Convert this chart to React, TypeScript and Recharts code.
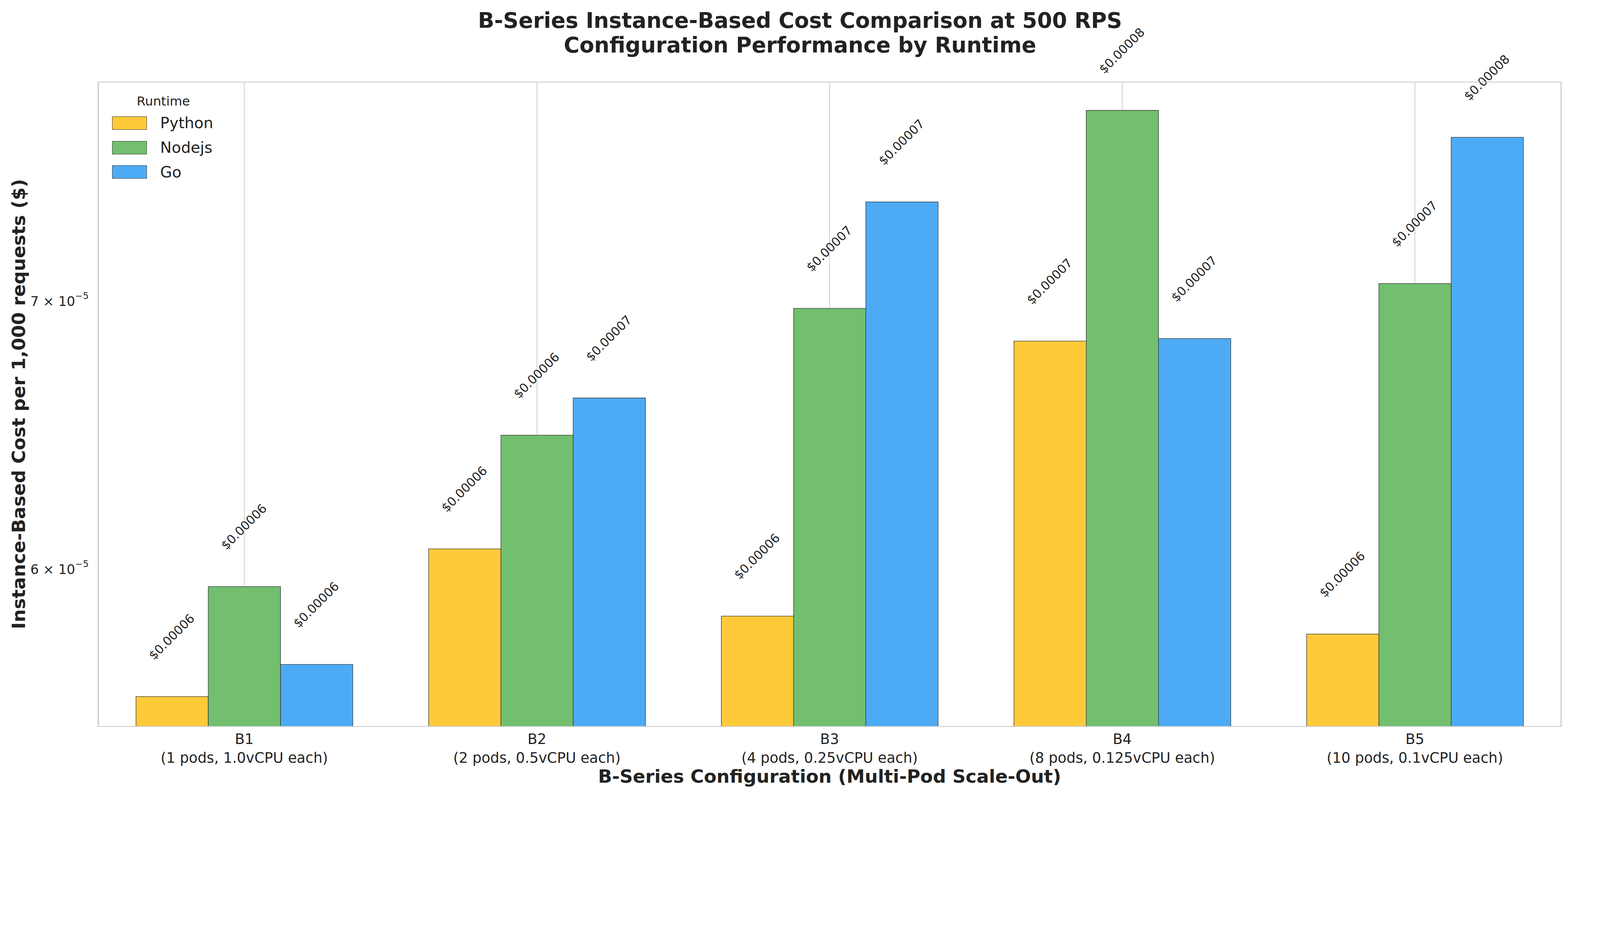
import React from "react";
import { Bar, BarChart, CartesianGrid, LabelList, XAxis, YAxis } from "recharts";

const W = window.innerWidth || 4765;
const H = Math.round(W * 2380 / 4765);
const S = W / 1568;
const categories = ["B1", "B2", "B3", "B4", "B5"];
const subLabels = [
  "(1 pods, 1.0vCPU each)",
  "(2 pods, 0.5vCPU each)",
  "(4 pods, 0.25vCPU each)",
  "(8 pods, 0.125vCPU each)",
  "(10 pods, 0.1vCPU each)",
];
const python = [5.576e-5, 6.07e-5, 5.84e-5, 6.84e-5, 5.78e-5];
const nodejs = [5.94e-5, 6.48e-5, 6.97e-5, 7.81e-5, 7.07e-5];
const go = [5.68e-5, 6.62e-5, 7.41e-5, 6.85e-5, 7.69e-5];
const yTicks = [6e-5, 7e-5];
const yMin = 5.48e-5;
const yMax = 7.94e-5;

const series = [
  { key: "python", label: "Python", color: "#FFCA3A" },
  { key: "nodejs", label: "Nodejs", color: "#71BF6F" },
  { key: "go", label: "Go", color: "#4DABF5" },
];

const data = categories.map((c, i) => ({ name: c, sub: subLabels[i], python: python[i], nodejs: nodejs[i], go: go[i] }));
const FONT = "DejaVu Sans, sans-serif";

const ValueLabel = (props: any) => {
  const { x, y, width, value } = props;
  const cx = x + width / 2;
  const cy = y - 58 * S;
  return (
    <text x={cx} y={cy} transform={`rotate(-45 ${cx} ${cy})`} textAnchor="middle" dominantBaseline="middle" fontSize={12 * S} fill="#222" fontFamily={FONT}>
      ${Number(value).toFixed(5)}
    </text>
  );
};

const XTick = (props: any) => {
  const { x, y, payload } = props;
  const d = data.find((r) => r.name === payload.value);
  return (
    <g>
      <text x={x} y={y + 14 * S} textAnchor="middle" fontSize={14 * S} fill="#222" fontFamily={FONT}>{payload.value}</text>
      <text x={x} y={y + 32 * S} textAnchor="middle" fontSize={14 * S} fill="#222" fontFamily={FONT}>{d?.sub}</text>
    </g>
  );
};

const YTick = (props: any) => {
  const { x, y, payload } = props;
  const m = Math.round(payload.value * 1e5);
  return (
    <text x={x - 6 * S} y={y + 5 * S} textAnchor="end" fontSize={13 * S} fill="#222" fontFamily={FONT}>
      {m} × 10<tspan dy={-7 * S} fontSize={9 * S}>−5</tspan>
    </text>
  );
};

export default function App() {
  document.body.style.margin = "0";
  const yW = 60 * S;
  const xH = 45 * S;
  return (
    <div style={{ position: "relative", width: W, height: H, background: "#fff", fontFamily: FONT, overflow: "hidden" }}>
      <div style={{ position: "absolute", top: 8 * S, left: 0, width: 1568 * S, textAlign: "center", fontSize: 21 * S, fontWeight: "bold", color: "#222", lineHeight: 1.15 }}>
        B-Series Instance-Based Cost Comparison at 500 RPS<br />Configuration Performance by Runtime
      </div>
      <BarChart width={W} height={H} data={data} margin={{ top: 80 * S, right: 38 * S, left: 96 * S - yW, bottom: H - 712 * S - xH }} barCategoryGap="13%" barGap={0} baseValue={yMin}>
        <CartesianGrid horizontal={false} stroke="#d0d0d0" strokeWidth={S * 0.8} />
        <XAxis dataKey="name" tick={<XTick />} tickLine={false} axisLine={false} height={xH} interval={0} />
        <YAxis scale="log" domain={[yMin, yMax]} allowDataOverflow ticks={yTicks} tick={<YTick />} tickLine={false} axisLine={false} width={yW} />
        {series.map((s) => (
          <Bar key={s.key} dataKey={s.key} fill={s.color} stroke="#333" strokeWidth={0.5 * S} isAnimationActive={false}>
            <LabelList dataKey={s.key} content={<ValueLabel />} />
          </Bar>
        ))}
      </BarChart>
      <div style={{ position: "absolute", left: 96 * S, top: 80 * S, width: 1434 * S, height: 632 * S, border: `${S * 0.8}px solid #c8c8c8`, boxSizing: "border-box", pointerEvents: "none" }} />
      <div style={{ position: "absolute", left: 110 * S, top: 92 * S, color: "#222" }}>
        <div style={{ fontSize: 12.5 * S, marginLeft: 24 * S, marginBottom: 2 * S }}>Runtime</div>
        {series.map((s) => (
          <div key={s.key} style={{ display: "flex", alignItems: "center", height: 24 * S }}>
            <div style={{ width: 34 * S, height: 13 * S, background: s.color, border: `${0.5 * S}px solid #333`, boxSizing: "border-box", marginRight: 13 * S }} />
            <span style={{ fontSize: 15 * S }}>{s.label}</span>
          </div>
        ))}
      </div>
      <div style={{ position: "absolute", top: 750 * S, left: 96 * S, width: 1434 * S, textAlign: "center", fontSize: 18 * S, fontWeight: "bold", color: "#222" }}>
        B-Series Configuration (Multi-Pod Scale-Out)
      </div>
      <div style={{ position: "absolute", left: 18 * S, top: 396 * S, width: 0, height: 0 }}>
        <div style={{ position: "absolute", transform: "translate(-50%, -50%) rotate(-90deg)", whiteSpace: "nowrap", fontSize: 18 * S, fontWeight: "bold", color: "#222" }}>
          Instance-Based Cost per 1,000 requests ($)
        </div>
      </div>
    </div>
  );
}
